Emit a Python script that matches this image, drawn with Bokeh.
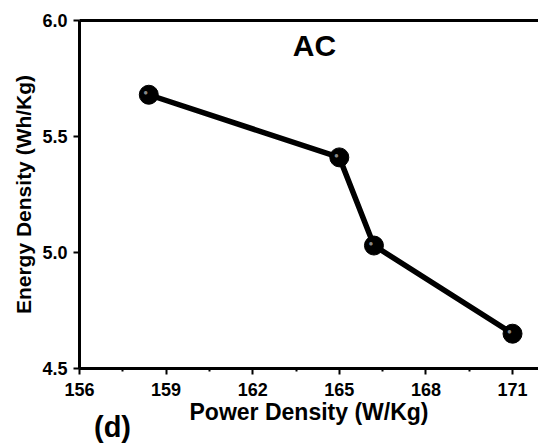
from bokeh.plotting import figure
from bokeh.layouts import column
from bokeh.models import FixedTicker, Label, ColumnDataSource, CustomJSTickFormatter, LinearAxis, Div
from bokeh.embed import file_html
from bokeh.resources import INLINE

power = [158.4, 165.0, 166.2, 171.0]
energy = [5.68, 5.41, 5.03, 4.65]
x_ticks = [156, 159, 162, 165, 168, 171]
y_ticks = [4.5, 5.0, 5.5, 6.0]
title_text = "AC"
panel_text = "(d)"
x_label = "Power Density (W/Kg)"
y_label = "Energy Density (Wh/Kg)"

FONT = "Liberation Sans"

p = figure(width=538, height=447, output_backend="svg", toolbar_location=None,
           x_range=(156, 171.9), y_range=(4.5, 6.0),
           min_border_left=79, min_border_right=0, min_border_top=20, min_border_bottom=79)
p.outline_line_color = None
p.grid.visible = False
p.background_fill_color = "white"
p.border_fill_color = "white"

for ax in (p.xaxis[0], p.yaxis[0]):
    ax.axis_line_width = 3
    ax.axis_line_color = "black"
    ax.major_tick_line_width = 2
    ax.major_tick_line_color = "black"
    ax.major_tick_in = 0
    ax.major_tick_out = 6
    ax.minor_tick_line_width = 2
    ax.minor_tick_in = 0
    ax.minor_tick_out = 3
    ax.major_label_text_font = FONT
    ax.major_label_text_font_style = "bold"
    ax.major_label_text_font_size = "18px"
    ax.major_label_text_color = "black"
    ax.axis_label_text_font = FONT
    ax.axis_label_text_font_style = "bold"
    ax.axis_label_text_color = "black"

p.xaxis.axis_label_text_font_size = "23px"
p.yaxis.axis_label_text_font_size = "21px"
p.xaxis.ticker = FixedTicker(ticks=x_ticks, minor_ticks=[t + 1.5 for t in x_ticks])
p.yaxis.ticker = FixedTicker(ticks=y_ticks)
p.yaxis.minor_tick_line_color = None
p.xaxis.axis_label = x_label
p.yaxis.axis_label = y_label
p.xaxis.major_label_standoff = 8
p.xaxis.axis_label_standoff = 0
p.yaxis.major_label_standoff = 6
p.yaxis.axis_label_standoff = 4
p.yaxis.formatter = CustomJSTickFormatter(code="return tick.toFixed(1);")

top_axis = LinearAxis(axis_line_width=3, axis_line_color="black",
                      major_tick_line_color=None, minor_tick_line_color=None,
                      major_label_text_font_size="0px", major_label_text_color=None)
p.add_layout(top_axis, "above")

src = ColumnDataSource(dict(x=power, y=energy, t=["\u25cf"] * len(power)))
p.line("x", "y", source=src, line_color="black", line_width=5.5)
p.scatter("x", "y", source=src, size=19, fill_color="black", line_color="black")
p.text("x", "y", text="t", source=src, text_color="#a0a0a0", text_font_size="8px",
       x_offset=-3, y_offset=-2, text_align="center", text_baseline="middle", text_alpha=0.85)

p.add_layout(Label(x=164.14, y=5.892, text=title_text,
                   text_font=FONT, text_font_style="bold", text_font_size="30px",
                   text_align="center", text_baseline="middle", text_color="black"))

d = Div(text=panel_text, width=60, height=32, margin=(-34, 0, 0, 94),
        styles={"font-family": FONT, "font-weight": "bold", "font-size": "29px",
                "color": "black", "line-height": "1", "z-index": "10"})

layout = column(p, d, spacing=0)

open("out.html", "w").write(file_html(layout, INLINE))
